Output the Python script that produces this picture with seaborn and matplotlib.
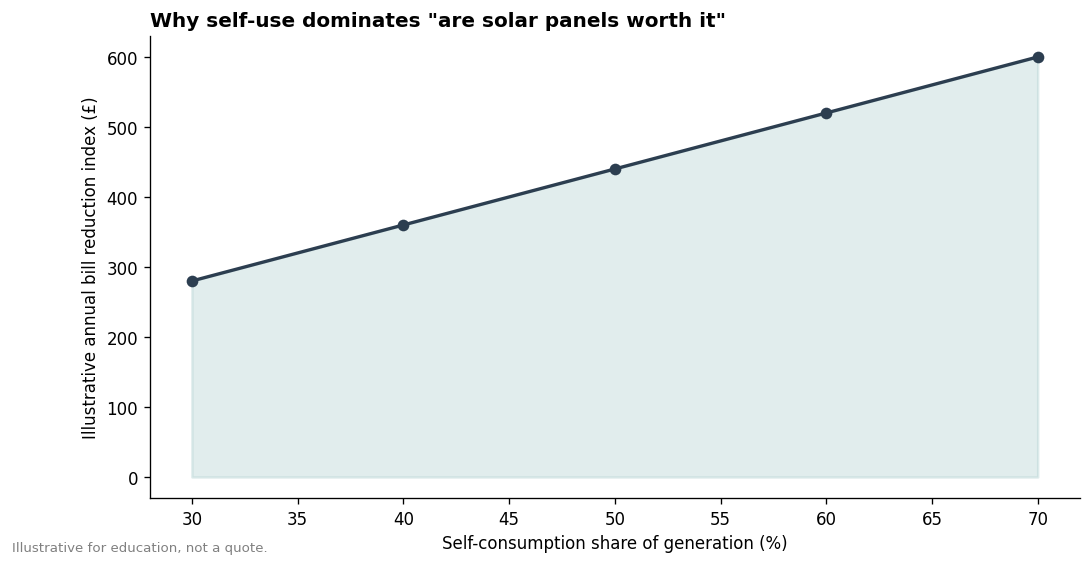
import pandas as pd
import seaborn as sns
import matplotlib.pyplot as plt

# Illustrative data
self_use_share = [30, 40, 50, 60, 70]
bill_reduction = [280, 360, 440, 520, 600]

df = pd.DataFrame({"share": self_use_share, "saving": bill_reduction})

sns.set_style("white")
plt.rcParams["font.family"] = ["DejaVu Sans"]
plt.rcParams.update({"text.color": "black", "axes.labelcolor": "black",
                     "xtick.color": "black", "ytick.color": "black"})

fig, ax = plt.subplots(figsize=(9.1, 4.733), dpi=120)
fig.subplots_adjust(left=0.137, right=0.989, top=0.935, bottom=0.1215)

ax.fill_between(df["share"], df["saving"], color="#a9cccc", alpha=0.35, linewidth=1.5,
                edgecolor="#a9cccc")
sns.lineplot(data=df, x="share", y="saving", marker="o", color="#2c3e50",
             linewidth=2, markersize=7, markeredgewidth=0, ax=ax)

ax.set_xticks(range(30, 71, 5))
ax.set_yticks(range(0, 601, 100))
ax.tick_params(axis="both", labelsize=10, length=3.5, left=True, bottom=True)
ax.set_xlabel("Self-consumption share of generation (%)", fontsize=10)
ax.set_ylabel("Illustrative annual bill reduction index (£)", fontsize=10)
ax.set_title('Why self-use dominates "are solar panels worth it"', loc="left",
             fontsize=12, fontweight="bold", color="black")
sns.despine(ax=ax)
for s in ax.spines.values():
    s.set_color("black")
    s.set_linewidth(0.8)

fig.text(0.011, 0.028, "Illustrative for education, not a quote.", fontsize=8,
         color="gray")

plt.savefig("out.png", dpi=120)
